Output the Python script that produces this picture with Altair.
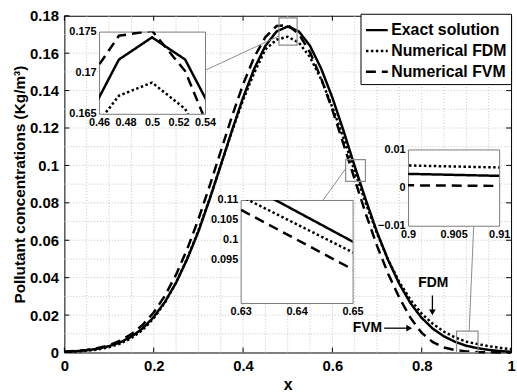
import altair as alt
import pandas as pd

FONT = "Liberation Sans"

# Grid nodes and pollutant concentration profiles (Kg/m^3)
x_nodes = [0.0, 0.025, 0.05, 0.075, 0.1, 0.125, 0.15, 0.175, 0.2, 0.225,
           0.25, 0.275, 0.3, 0.325, 0.35, 0.375, 0.4, 0.425, 0.45, 0.475,
           0.5, 0.525, 0.55, 0.575, 0.6, 0.625, 0.65, 0.675, 0.7, 0.725,
           0.75, 0.775, 0.8, 0.825, 0.85, 0.875, 0.9, 0.925, 0.95, 0.975, 1.0]
exact = [0.0004, 0.0007, 0.0012, 0.0020, 0.0034, 0.0054, 0.0085, 0.0128, 0.0190, 0.0270,
         0.0373, 0.0500, 0.0646, 0.0818, 0.1000, 0.1185, 0.1362, 0.1517, 0.1639, 0.1716,
         0.1743, 0.1716, 0.1639, 0.1517, 0.1362, 0.1185, 0.0995, 0.0815, 0.0643, 0.0493,
         0.0366, 0.0263, 0.0185, 0.0127, 0.0086, 0.0057, 0.0036, 0.0023, 0.0014, 0.0008, 0.0004]
fdm = [0.0003, 0.0005, 0.0009, 0.0016, 0.0028, 0.0047, 0.0077, 0.0120, 0.0183, 0.0266,
       0.0373, 0.0502, 0.0652, 0.0820, 0.1000, 0.1180, 0.1350, 0.1495, 0.1620, 0.1672,
       0.1688, 0.1656, 0.1579, 0.1460, 0.1311, 0.1145, 0.0968, 0.0796, 0.0636, 0.0495,
       0.0376, 0.0281, 0.0208, 0.0153, 0.0111, 0.0080, 0.0058, 0.0045, 0.0034, 0.0025, 0.0017]
fvm = [0.0004, 0.0008, 0.0014, 0.0024, 0.0039, 0.0063, 0.0098, 0.0147, 0.0214, 0.0303,
       0.0416, 0.0553, 0.0712, 0.0889, 0.1075, 0.1261, 0.1433, 0.1579, 0.1686, 0.1745,
       0.1751, 0.1702, 0.1604, 0.1465, 0.1297, 0.1113, 0.0925, 0.0740, 0.0570, 0.0420,
       0.0292, 0.0185, 0.0105, 0.0055, 0.0027, 0.0013, 0.0006, 0.0002, 0.0001, 0.0000, 0.0000]

series_names = ["Exact solution", "Numerical FDM", "Numerical FVM"]
dash_styles = [[1, 0], [2.5, 2.5], [10, 6]]

# Tick labels and grid lines (major + minor)
x_labels = [0, 0.2, 0.4, 0.6, 0.8, 1]
y_labels = [0, 0.02, 0.04, 0.06, 0.08, 0.1, 0.12, 0.14, 0.16, 0.18]
x_grid = [0.05, 0.1, 0.15, 0.2, 0.25, 0.3, 0.35, 0.4, 0.45, 0.5,
          0.55, 0.6, 0.65, 0.7, 0.75, 0.8, 0.85, 0.9, 0.95]
y_grid = [0.01, 0.02, 0.03, 0.04, 0.05, 0.06, 0.07, 0.08, 0.09,
          0.1, 0.11, 0.12, 0.13, 0.14, 0.15, 0.16, 0.17]

# Zoom windows: (x domain, y domain, x ticks, y ticks)
inset_a = ([0.46, 0.54], [0.165, 0.175], [0.46, 0.48, 0.5, 0.52, 0.54], [0.165, 0.17, 0.175])
inset_b = ([0.63, 0.65], [0.084, 0.11], [0.63, 0.64, 0.65], [0.095, 0.1, 0.105, 0.11])
inset_c = ([0.9, 0.91], [-0.01, 0.01], [0.9, 0.905, 0.91], [-0.01, 0, 0.01])

# Marker rectangles on the main axes
zoom_boxes = pd.DataFrame({
    "x0": [0.4805, 0.6297, 0.878], "x1": [0.521, 0.674, 0.926],
    "y0": [0.1643, 0.0915, 0.0], "y1": [0.1789, 0.1031, 0.0114],
})
# Leader lines from each inset to its marker rectangle
leaders = pd.DataFrame({
    "x0": [0.3149, 0.5787, 0.9164], "y0": [0.1508, 0.0813, 0.0676],
    "x1": [0.4805, 0.6304, 0.9062], "y1": [0.1692, 0.0985, 0.0114],
})
# Text annotations with arrows
notes = pd.DataFrame({"x": [0.826, 0.6785], "y": [0.0369, 0.013], "text": ["FDM", "FVM"]})
arrows = pd.DataFrame({
    "x0": [0.8239, 0.716], "y0": [0.0305, 0.013],
    "x1": [0.8239, 0.768], "y1": [0.0225, 0.013],
    "hx": [0.8239, 0.772], "hy": [0.0215, 0.013],
    "shape": ["triangle-down", "triangle-right"],
})

rows = []
for name, vals in zip(series_names, [exact, fdm, fvm]):
    for xv, cv in zip(x_nodes, vals):
        rows.append({"x": xv, "c": cv, "series": name})
curves = pd.DataFrame(rows)

W, H = 451, 340
TICK_LEN = 5
LBL = dict(labelFont=FONT, labelFontWeight="bold", labelColor="black", format=".3~g",
           labelFlush=False, labelOverlap=False, ticks=False, domain=False, grid=False)
GRID_STYLE = dict(color="#c4c4c4", strokeWidth=1, strokeDash=[1, 2])

x_main = alt.Scale(domain=[0, 1], nice=False, zero=False)
y_main = alt.Scale(domain=[0, 0.18], nice=False, zero=False)
dash_scale = alt.Scale(domain=series_names, range=dash_styles)

x_axis = alt.Axis(values=x_labels, labelFontSize=15, labelPadding=6,
                  title="x", titleFont=FONT, titleFontSize=16, titleFontWeight="bold",
                  titleColor="black", titlePadding=3, **LBL)
y_axis = alt.Axis(values=y_labels, labelFontSize=15, labelPadding=6,
                  title="Pollutant concentrations (Kg/m³)", titleFont=FONT,
                  titleFontSize=15.5, titleFontWeight="bold", titleColor="black",
                  titlePadding=2, **LBL)


def mx(field):
    return alt.X(field, scale=x_main, axis=x_axis)


def my(field):
    return alt.Y(field, scale=y_main, axis=y_axis)


grid_v = alt.Chart(pd.DataFrame({"g": x_grid})).mark_rule(**GRID_STYLE).encode(x=mx("g:Q"))
grid_h = alt.Chart(pd.DataFrame({"g": y_grid})).mark_rule(**GRID_STYLE).encode(y=my("g:Q"))

# Inward major ticks on all four sides of the axes box
xt = pd.DataFrame({"t": x_labels})
yt = pd.DataFrame({"t": y_labels})
ticks_bottom = alt.Chart(xt).mark_rule(color="black", strokeWidth=1).encode(
    x=mx("t:Q"), y=alt.value(H), y2=alt.value(H - TICK_LEN))
ticks_top = alt.Chart(xt).mark_rule(color="black", strokeWidth=1).encode(
    x=mx("t:Q"), y=alt.value(0), y2=alt.value(TICK_LEN))
ticks_left = alt.Chart(yt).mark_rule(color="black", strokeWidth=1).encode(
    y=my("t:Q"), x=alt.value(0), x2=alt.value(TICK_LEN))
ticks_right = alt.Chart(yt).mark_rule(color="black", strokeWidth=1).encode(
    y=my("t:Q"), x=alt.value(W - TICK_LEN), x2=alt.value(W))

main_lines = alt.Chart(curves).mark_line(color="black", strokeWidth=2.5).encode(
    x=mx("x:Q"),
    y=my("c:Q"),
    strokeDash=alt.StrokeDash("series:N", scale=dash_scale, legend=alt.Legend(
        title=None, orient="none", legendX=299, legendY=-2, direction="vertical",
        symbolType="stroke", symbolSize=484, symbolStrokeWidth=2.5,
        symbolStrokeColor="black", labelFont=FONT, labelFontSize=16,
        labelFontWeight="bold", labelColor="black", labelOffset=2,
        strokeColor="black", fillColor="white", padding=4, rowPadding=0)),
)

boxes = alt.Chart(zoom_boxes).mark_rect(fill="transparent", stroke="#8c8c8c", strokeWidth=1.2).encode(
    x=mx("x0:Q"), x2="x1:Q", y=my("y0:Q"), y2="y1:Q")
leader_lines = alt.Chart(leaders).mark_rule(color="#8c8c8c", strokeWidth=1).encode(
    x=mx("x0:Q"), x2="x1:Q", y=my("y0:Q"), y2="y1:Q")
arrow_shafts = alt.Chart(arrows).mark_rule(color="black", strokeWidth=1.3).encode(
    x=mx("x0:Q"), x2="x1:Q", y=my("y0:Q"), y2="y1:Q")
arrow_heads = alt.Chart(arrows).mark_point(filled=True, color="black", size=45, opacity=1).encode(
    x=mx("hx:Q"), y=my("hy:Q"), shape=alt.Shape("shape:N", scale=None))
note_text = alt.Chart(notes).mark_text(font=FONT, fontSize=14, fontWeight="bold", color="black").encode(
    x=mx("x:Q"), y=my("y:Q"), text="text:N")

main = alt.layer(grid_v, grid_h, ticks_bottom, ticks_top, ticks_left, ticks_right,
                 main_lines, boxes, leader_lines, arrow_shafts,
                 arrow_heads, note_text).properties(
    width=W, height=H, view=alt.ViewBackground(stroke="black", strokeWidth=1))


def make_inset(spec, w, h):
    xdom, ydom, xt_vals, yt_vals = spec
    return alt.Chart(curves).mark_line(color="black", strokeWidth=2.5, clip=True).encode(
        x=alt.X("x:Q", scale=alt.Scale(domain=xdom, nice=False, zero=False),
                axis=alt.Axis(values=xt_vals, labelFontSize=11, labelPadding=3,
                              title=None, **LBL)),
        y=alt.Y("c:Q", scale=alt.Scale(domain=ydom, nice=False, zero=False),
                axis=alt.Axis(values=yt_vals, labelFontSize=11, labelPadding=3,
                              title=None, **LBL)),
        strokeDash=alt.StrokeDash("series:N", scale=dash_scale, legend=None),
    ).properties(width=w, height=h,
                 view=alt.ViewBackground(fill="white", stroke="#7a7a7a", strokeWidth=1))


def blank(w, h):
    return alt.Chart(pd.DataFrame({"v": [0]})).mark_point(opacity=0).encode(
        x=alt.value(0), y=alt.value(0)).properties(width=w, height=h)


def place(view, dx, dy):
    # nested concat groups take no room in a flush layout, so every placed view
    # is offset from the same origin (the main plot's top-left corner)
    row = alt.hconcat(blank(1, 1), view, spacing=dx - 1, bounds="flush")
    return alt.vconcat(blank(1, 1), row, spacing=dy - 1, bounds="flush")


chart = alt.hconcat(
    alt.vconcat(main, bounds="flush"),
    place(make_inset(inset_a, 107, 83), 35, 16),
    place(make_inset(inset_b, 113, 104), 178, 186),
    place(make_inset(inset_c, 92, 77), 347, 135),
    spacing=0, bounds="flush",
).properties(
    padding={"left": 12, "top": 6, "right": 0, "bottom": 0},
    background="white",
).configure_view(strokeWidth=0)

chart.save("out.html", embed_options={"renderer": "svg", "actions": False})
